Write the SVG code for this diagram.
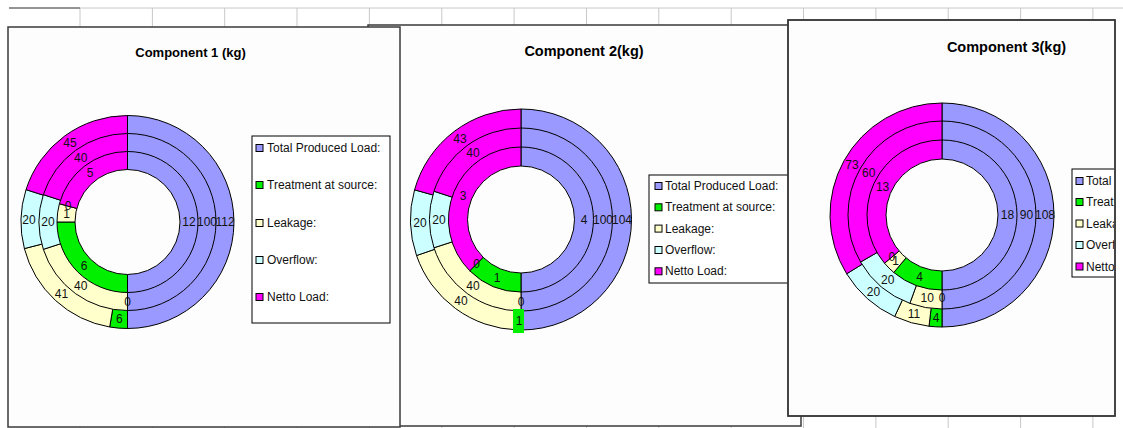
<svg xmlns="http://www.w3.org/2000/svg" width="1123" height="428" viewBox="0 0 1123 428">
<style>
.grid{stroke:#c8c8c8;stroke-width:1;fill:none}
.frame{fill:#fdfdfd;stroke:#3a3a3a;stroke-width:1.5}
.legend{fill:#fff;stroke:#000;stroke-width:1}
.s path,.s circle{stroke:#000;stroke-width:1;stroke-linejoin:round}
.tp{fill:#9999ff}.tr{fill:#00f000}.lk{fill:#ffffcc}.ov{fill:#ccffff}.nt{fill:#ff00ff}
.hole{fill:#fdfdfd}
.mk{stroke:#000;stroke-width:1}
.lb{font-family:"Liberation Sans",Arial,sans-serif;font-size:12px;fill:#111;text-anchor:middle}
.lg{font-family:"Liberation Sans",Arial,sans-serif;font-size:12px;fill:#111}
.t1{font-family:"Liberation Sans",Arial,sans-serif;font-weight:bold;font-size:13px;fill:#000;text-anchor:middle}
.t2{font-family:"Liberation Sans",Arial,sans-serif;font-weight:bold;font-size:14.5px;fill:#000;text-anchor:middle}
</style>
<defs>
<clipPath id="c3clip"><rect x="788" y="20" width="326" height="396"/></clipPath>
</defs>
<rect width="1123" height="428" fill="#fff"/>
<g id="grid" class="grid">
<line x1="9" y1="8" x2="1123" y2="8"/>
<line x1="80" y1="8" x2="80" y2="428"/><line x1="152.4" y1="8" x2="152.4" y2="428"/><line x1="224.7" y1="8" x2="224.7" y2="428"/><line x1="297" y1="8" x2="297" y2="428"/><line x1="369.4" y1="8" x2="369.4" y2="428"/><line x1="441.8" y1="8" x2="441.8" y2="428"/><line x1="514.1" y1="8" x2="514.1" y2="428"/><line x1="586.5" y1="8" x2="586.5" y2="428"/><line x1="658.8" y1="8" x2="658.8" y2="428"/><line x1="731.2" y1="8" x2="731.2" y2="428"/><line x1="803.5" y1="8" x2="803.5" y2="428"/><line x1="875.9" y1="8" x2="875.9" y2="428"/><line x1="948.2" y1="8" x2="948.2" y2="428"/><line x1="1020.6" y1="8" x2="1020.6" y2="428"/><line x1="1092.9" y1="8" x2="1092.9" y2="428"/>
<line x1="9" y1="8" x2="80" y2="8" stroke="#444"/>
</g>

<g id="chart2">
<rect class="frame" x="368" y="25" width="433" height="401"/>
<text class="t2" x="584" y="56">Component 2(kg)</text>
<g class="s">
<path class="tp" d="M521,219.5 L521,109 A110.5,110.5 0 0 1 521,330 Z"/>
<path class="tr" d="M521,219.5 L521,330 A110.5,110.5 0 0 1 517.66,329.95 Z"/>
<path class="lk" d="M521,219.5 L517.66,329.95 A110.5,110.5 0 0 1 416.54,255.55 Z"/>
<path class="ov" d="M521,219.5 L416.54,255.55 A110.5,110.5 0 0 1 414.56,189.83 Z"/>
<path class="nt" d="M521,219.5 L414.56,189.83 A110.5,110.5 0 0 1 521,109 Z"/>
<path class="tp" d="M521,219.5 L521,128 A91.5,91.5 0 0 1 521,311 Z"/>
<path class="lk" d="M521,219.5 L521,311 A91.5,91.5 0 0 1 433.98,247.78 Z"/>
<path class="ov" d="M521,219.5 L433.98,247.78 A91.5,91.5 0 0 1 433.98,191.22 Z"/>
<path class="nt" d="M521,219.5 L433.98,191.22 A91.5,91.5 0 0 1 521,128 Z"/>
<path class="tp" d="M521,219.5 L521,147 A72.5,72.5 0 0 1 521,292 Z"/>
<path class="tr" d="M521,219.5 L521,292 A72.5,72.5 0 0 1 469.73,270.77 Z"/>
<path class="nt" d="M521,219.5 L469.73,270.77 A72.5,72.5 0 0 1 521,147 Z"/>
<circle class="hole" cx="521" cy="219.5" r="53.5"/>
</g>
<rect x="513" y="309" width="11" height="24" fill="#00f000"/>
<g class="lb">
<text x="622" y="223.5">104</text><text x="603" y="223.5">100</text><text x="584" y="223.5">4</text>
<text x="519" y="325">1</text><text x="461" y="305">40</text><text x="420" y="226.5">20</text><text x="460" y="143">43</text>
<text x="521" y="305.5">0</text><text x="473" y="290">40</text><text x="439" y="223.5">20</text><text x="473" y="157">40</text>
<text x="497" y="282">1</text><text x="476.5" y="268">0</text><text x="463" y="199.5">3</text>
</g>
<rect class="legend" x="649" y="175" width="145" height="108"/>
<rect class="mk tp" x="655" y="182.5" width="7" height="7"/><text class="lg" x="665" y="190">Total Produced Load:</text>
<rect class="mk tr" x="655" y="203.8" width="7" height="7"/><text class="lg" x="665" y="211.3">Treatment at source:</text>
<rect class="mk lk" x="655" y="225.1" width="7" height="7"/><text class="lg" x="665" y="232.6">Leakage:</text>
<rect class="mk ov" x="655" y="246.5" width="7" height="7"/><text class="lg" x="665" y="254">Overflow:</text>
<rect class="mk nt" x="655" y="267.8" width="7" height="7"/><text class="lg" x="665" y="275.3">Netto Load:</text>
</g>

<g id="chart1">
<rect class="frame" x="8" y="27" width="392" height="400"/>
<text class="t1" x="190.5" y="57">Component 1 (kg)</text>
<g class="s">
<path class="tp" d="M127.5,222 L127.5,115.5 A106.5,106.5 0 0 1 127.5,328.5 Z"/>
<path class="tr" d="M127.5,222 L127.5,328.5 A106.5,106.5 0 0 1 109.66,327 Z"/>
<path class="lk" d="M127.5,222 L109.66,327 A106.5,106.5 0 0 1 24.38,248.6 Z"/>
<path class="ov" d="M127.5,222 L24.38,248.6 A106.5,106.5 0 0 1 26.03,189.65 Z"/>
<path class="nt" d="M127.5,222 L26.03,189.65 A106.5,106.5 0 0 1 127.5,115.5 Z"/>
<path class="tp" d="M127.5,222 L127.5,133.5 A88.5,88.5 0 0 1 127.5,310.5 Z"/>
<path class="lk" d="M127.5,222 L127.5,310.5 A88.5,88.5 0 0 1 43.33,249.35 Z"/>
<path class="ov" d="M127.5,222 L43.33,249.35 A88.5,88.5 0 0 1 43.33,194.65 Z"/>
<path class="nt" d="M127.5,222 L43.33,194.65 A88.5,88.5 0 0 1 127.5,133.5 Z"/>
<path class="tp" d="M127.5,222 L127.5,151.5 A70.5,70.5 0 0 1 127.5,292.5 Z"/>
<path class="tr" d="M127.5,222 L127.5,292.5 A70.5,70.5 0 0 1 57,222 Z"/>
<path class="lk" d="M127.5,222 L57,222 A70.5,70.5 0 0 1 59.4,203.75 Z"/>
<path class="nt" d="M127.5,222 L59.4,203.75 A70.5,70.5 0 0 1 127.5,151.5 Z"/>
<circle class="hole" cx="127.5" cy="222" r="52.5"/>
</g>
<g class="lb">
<text x="225" y="226">112</text><text x="207" y="226">100</text><text x="189" y="226">12</text>
<text x="119.3" y="323">6</text><text x="61.5" y="297.5">41</text><text x="29" y="223.5">20</text><text x="70" y="147">45</text>
<text x="127.5" y="305.5">0</text><text x="80.8" y="290">40</text><text x="48" y="226">20</text><text x="80.8" y="161.5">40</text>
<text x="84" y="269.5">6</text><text x="66.5" y="218">1</text><text x="68" y="210">0</text><text x="90" y="177">5</text>
</g>
<rect class="legend" x="252" y="136" width="138" height="187"/>
<rect class="mk tp" x="256" y="144.5" width="7" height="7"/><text class="lg" x="267" y="152">Total Produced Load:</text>
<rect class="mk tr" x="256" y="181.5" width="7" height="7"/><text class="lg" x="267" y="189">Treatment at source:</text>
<rect class="mk lk" x="256" y="219.5" width="7" height="7"/><text class="lg" x="267" y="227">Leakage:</text>
<rect class="mk ov" x="256" y="256.5" width="7" height="7"/><text class="lg" x="267" y="264">Overflow:</text>
<rect class="mk nt" x="256" y="293.5" width="7" height="7"/><text class="lg" x="267" y="301">Netto Load:</text>
</g>

<g id="chart3">
<rect class="frame" x="788" y="20" width="327" height="396"/>
<text class="t2" x="1006.5" y="52">Component 3(kg)</text>
<g class="s">
<path class="tp" d="M942,215 L942,103 A112,112 0 0 1 942,327 Z"/>
<path class="tr" d="M942,215 L942,327 A112,112 0 0 1 929,326.24 Z"/>
<path class="lk" d="M942,215 L929,326.24 A112,112 0 0 1 894.67,316.51 Z"/>
<path class="ov" d="M942,215 L894.67,316.51 A112,112 0 0 1 846.67,273.8 Z"/>
<path class="nt" d="M942,215 L846.67,273.8 A112,112 0 0 1 942,103 Z"/>
<path class="tp" d="M942,215 L942,121 A94,94 0 0 1 942,309 Z"/>
<path class="lk" d="M942,215 L942,309 A94,94 0 0 1 909.85,303.33 Z"/>
<path class="ov" d="M942,215 L909.85,303.33 A94,94 0 0 1 860.59,262 Z"/>
<path class="nt" d="M942,215 L860.59,262 A94,94 0 0 1 942,121 Z"/>
<path class="tp" d="M942,215 L942,140 A75,75 0 0 1 942,290 Z"/>
<path class="tr" d="M942,215 L942,290 A75,75 0 0 1 893.79,272.45 Z"/>
<path class="lk" d="M942,215 L893.79,272.45 A75,75 0 0 1 884.55,263.21 Z"/>
<path class="nt" d="M942,215 L884.55,263.21 A75,75 0 0 1 942,140 Z"/>
<circle class="hole" cx="942" cy="215" r="56"/>
</g>
<g class="lb">
<text x="1045" y="219">108</text><text x="1026.5" y="219">90</text><text x="1007.5" y="219">18</text>
<text x="936" y="322">4</text><text x="914" y="318">11</text><text x="873.5" y="296">20</text><text x="852" y="169">73</text>
<text x="942" y="302">0</text><text x="927.3" y="302">10</text><text x="887.7" y="283.7">20</text><text x="868.8" y="176.8">60</text>
<text x="919.6" y="280.6">4</text><text x="895.7" y="265.3">1</text><text x="891.8" y="261">0</text><text x="882.6" y="191.3">13</text>
</g>
<g clip-path="url(#c3clip)">
<rect class="legend" x="1072" y="169" width="140" height="108"/>
<rect class="mk tp" x="1076" y="177.5" width="7" height="7"/><text class="lg" x="1086" y="185">Total Produced Load:</text>
<rect class="mk tr" x="1076" y="198.5" width="7" height="7"/><text class="lg" x="1086" y="206">Treatment at source:</text>
<rect class="mk lk" x="1076" y="220" width="7" height="7"/><text class="lg" x="1086" y="227.5">Leakage:</text>
<rect class="mk ov" x="1076" y="241.5" width="7" height="7"/><text class="lg" x="1086" y="249">Overflow:</text>
<rect class="mk nt" x="1076" y="263" width="7" height="7"/><text class="lg" x="1086" y="270.5">Netto Load:</text>
</g>
<rect x="788" y="20" width="327" height="396" fill="none" stroke="#3a3a3a" stroke-width="1.5"/>
</g>
</svg>
